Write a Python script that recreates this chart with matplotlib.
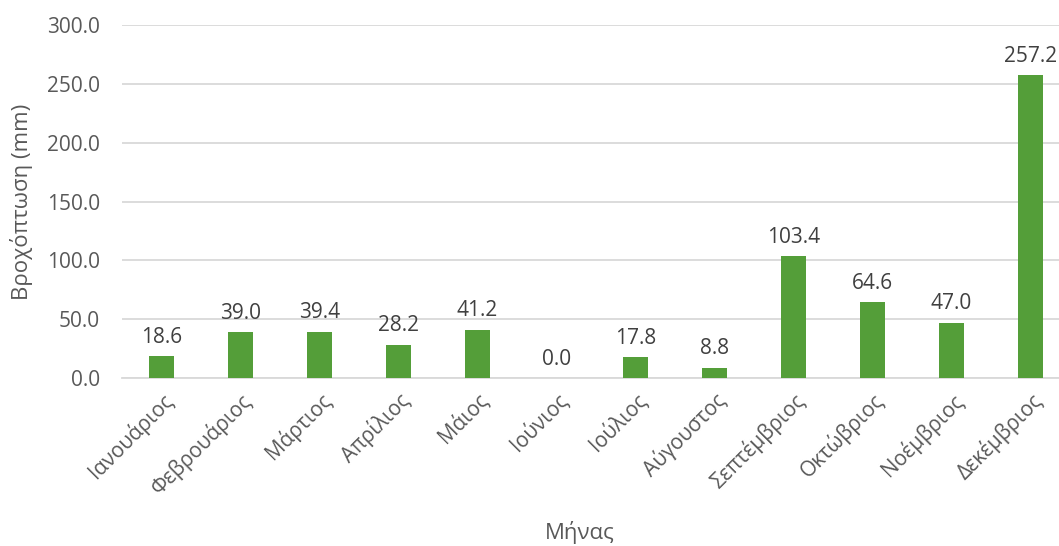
import numpy as np
import matplotlib.pyplot as plt

plt.rcParams['font.family'] = ['Open Sans', 'DejaVu Sans']

months = ['Ιανουάριος', 'Φεβρουάριος', 'Μάρτιος', 'Απρίλιος', 'Μάιος', 'Ιούνιος',
          'Ιούλιος', 'Αύγουστος', 'Σεπτέμβριος', 'Οκτώβριος', 'Νοέμβριος', 'Δεκέμβριος']
rain = [18.6, 39.0, 39.4, 28.2, 41.2, 0.0, 17.8, 8.8, 103.4, 64.6, 47.0, 257.2]
yticks = [0, 50, 100, 150, 200, 250, 300]

text_col = '#595959'

fig = plt.figure(figsize=(10.59, 5.46), dpi=100)
ax = fig.add_axes([122 / 1059, 1 - 378 / 546, 1 - 122 / 1059, (378 - 25) / 546])

x = np.arange(len(months))
bars = ax.bar(x, rain, width=0.32, color='#549E39', zorder=3)

for xi, v in zip(x, rain):
    ax.annotate(f'{v:.1f}', (xi, v), xytext=(0, 6), textcoords='offset points',
                ha='center', va='bottom', fontsize=15, color='#404040')

ax.set_ylim(0, 300)
ax.set_xlim(-0.5, 11.36)
ax.set_yticks(yticks)
ax.set_yticklabels([f'{t:.1f}' for t in yticks], fontsize=15, color=text_col)
ax.set_xticks(x)
ax.set_xticklabels(months, rotation=45, ha='right', rotation_mode='anchor',
                   fontsize=15, color=text_col)
ax.tick_params(axis='both', length=0)
ax.tick_params(axis='y', pad=16)
ax.tick_params(axis='x', pad=8)
ax.grid(axis='y', color='#D9D9D9', linewidth=1.3, zorder=0)
for s in ['top', 'right', 'left']:
    ax.spines[s].set_visible(False)
ax.spines['bottom'].set_color('#D9D9D9')
ax.spines['bottom'].set_linewidth(1.3)

fig.text(580 / 1059, 1 - 533 / 546, 'Μήνας', ha='center', va='center',
         fontsize=16, color=text_col)
fig.text(22 / 1059, 1 - 202 / 546, 'Βροχόπτωση (mm)', ha='center', va='center',
         rotation=90, fontsize=16, color=text_col)

fig.savefig('out.png', dpi=100)
